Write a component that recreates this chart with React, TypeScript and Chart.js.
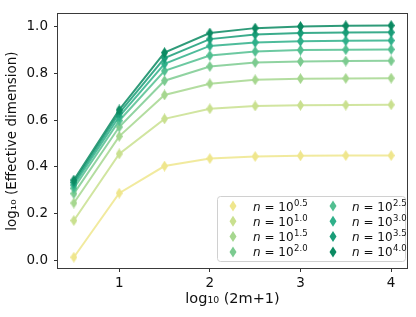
import React, { useEffect, useRef } from "react";
import { Chart, registerables } from "chart.js";

Chart.register(...registerables);

const xValues = [0.5, 1, 1.5, 2, 2.5, 3, 3.5, 4];
const seriesExponents = ["0.5", "1.0", "1.5", "2.0", "2.5", "3.0", "3.5", "4.0"];

const n05 = [0.013, 0.287, 0.403, 0.435, 0.444, 0.447, 0.448, 0.448];
const n10 = [0.170, 0.455, 0.605, 0.648, 0.660, 0.663, 0.664, 0.665];
const n15 = [0.245, 0.530, 0.707, 0.755, 0.772, 0.777, 0.778, 0.779];
const n20 = [0.285, 0.570, 0.768, 0.829, 0.846, 0.850, 0.852, 0.853];
const n25 = [0.308, 0.597, 0.810, 0.876, 0.893, 0.899, 0.901, 0.902];
const n30 = [0.322, 0.615, 0.840, 0.917, 0.932, 0.937, 0.939, 0.940];
const n35 = [0.333, 0.630, 0.865, 0.946, 0.966, 0.972, 0.974, 0.975];
const n40 = [0.343, 0.643, 0.888, 0.972, 0.993, 1.000, 1.003, 1.004];

const seriesValues = [n05, n10, n15, n20, n25, n30, n35, n40];

const seriesColors = [
  [239, 230, 141],
  [201, 224, 143],
  [166, 215, 143],
  [124, 203, 144],
  [82, 191, 145],
  [47, 176, 138],
  [25, 157, 120],
  [11, 138, 98],
];

const xTicks = [1, 2, 3, 4];
const yTicks = [0, 0.2, 0.4, 0.6, 0.8, 1.0];

const FONT = "'DejaVu Sans', sans-serif";

function rgb(c: number[], a = 1) {
  return `rgba(${c[0]},${c[1]},${c[2]},${a})`;
}

function makeDiamond(color: string, w = 7, h = 11) {
  const c = document.createElement("canvas");
  c.width = w;
  c.height = h;
  const ctx = c.getContext("2d")!;
  ctx.fillStyle = color;
  ctx.beginPath();
  ctx.moveTo(w / 2, 0);
  ctx.lineTo(w, h / 2);
  ctx.lineTo(w / 2, h);
  ctx.lineTo(0, h / 2);
  ctx.closePath();
  ctx.fill();
  return c;
}

function drawDiamond(ctx: CanvasRenderingContext2D, x: number, y: number, color: string, w = 7, h = 11) {
  ctx.fillStyle = color;
  ctx.beginPath();
  ctx.moveTo(x, y - h / 2);
  ctx.lineTo(x + w / 2, y);
  ctx.lineTo(x, y + h / 2);
  ctx.lineTo(x - w / 2, y);
  ctx.closePath();
  ctx.fill();
}

const framePlugin = {
  id: "frame",
  afterDatasetsDraw(chart: any) {
    const { ctx, chartArea } = chart;
    ctx.save();
    ctx.strokeStyle = "#3a3a3a";
    ctx.lineWidth = 1;
    const l = Math.round(chartArea.left) - 0.5;
    const t = Math.round(chartArea.top) - 0.5;
    const r = Math.round(chartArea.right) + 0.5;
    const b = Math.round(chartArea.bottom) + 0.5;
    ctx.strokeRect(l, t, r - l, b - t);
    ctx.restore();
  },
};

const legendPlugin = {
  id: "customLegend",
  afterDraw(chart: any) {
    const ctx: CanvasRenderingContext2D = chart.ctx;
    ctx.save();
    const bx = 217.5, by = 196.5, bw = 188, bh = 65;
    ctx.beginPath();
    (ctx as any).roundRect(bx, by, bw, bh, 3);
    ctx.fillStyle = "rgba(255,255,255,0.85)";
    ctx.fill();
    ctx.strokeStyle = "#d0d0d0";
    ctx.lineWidth = 1;
    ctx.stroke();
    const rowY0 = 206;
    const rowStep = 15.3;
    const cols = [{ mx: 233, tx: 253 }, { mx: 333, tx: 352 }];
    seriesExponents.forEach((exp, i) => {
      const col = cols[Math.floor(i / 4)];
      const y = rowY0 + (i % 4) * rowStep;
      drawDiamond(ctx, col.mx, y, rgb(seriesColors[i]));
      ctx.fillStyle = "#111";
      ctx.textBaseline = "alphabetic";
      ctx.textAlign = "left";
      const base = y + 4.5;
      ctx.font = `italic 12px ${FONT}`;
      let x = col.tx;
      ctx.fillText("n", x, base);
      x += ctx.measureText("n").width;
      ctx.font = `12px ${FONT}`;
      const eq = " = 10";
      ctx.fillText(eq, x, base);
      x += ctx.measureText(eq).width + 0.5;
      ctx.font = `8.5px ${FONT}`;
      ctx.fillText(exp, x, base - 5);
    });
    ctx.restore();
  },
};

export default function App() {
  const canvasRef = useRef<HTMLCanvasElement | null>(null);

  useEffect(() => {
    if (!canvasRef.current) return;
    const datasets = seriesValues.map((vals, i) => ({
      label: "n = 10^" + seriesExponents[i],
      data: xValues.map((x, j) => ({ x, y: vals[j] })),
      borderColor: rgb(seriesColors[i], 0.85),
      backgroundColor: rgb(seriesColors[i]),
      borderWidth: 2,
      pointStyle: makeDiamond(rgb(seriesColors[i])),
      pointRadius: 5,
      pointHoverRadius: 5,
      tension: 0,
      order: seriesValues.length - i,
    }));

    const chart = new Chart(canvasRef.current, {
      type: "line",
      data: { datasets },
      options: {
        animation: false,
        responsive: false,
        maintainAspectRatio: false,
        parsing: false as any,
        layout: { padding: { top: 7, right: 9, left: 0, bottom: 0 } },
        plugins: {
          legend: { display: false },
          tooltip: { enabled: false },
        },
        scales: {
          x: {
            type: "linear",
            min: 0.325,
            max: 4.175,
            afterBuildTicks: (s: any) => {
              s.ticks = xTicks.map((v) => ({ value: v }));
            },
            afterFit: (s: any) => {
              s.height = 49;
            },
            ticks: {
              autoSkip: false,
              maxRotation: 0,
              padding: 3,
              color: "#111",
              font: { family: FONT, size: 13.5 },
              callback: (v: any) => String(v),
            },
            grid: {
              display: true,
              drawOnChartArea: false,
              drawTicks: true,
              tickLength: 4,
              tickColor: "#333",
            },
            border: { display: false },
            title: {
              display: true,
              text: "log₁₀ (2m+1)",
              color: "#111",
              font: { family: FONT, size: 14.5 },
              padding: { top: 2, bottom: 9 },
            },
          },
          y: {
            type: "linear",
            min: -0.033,
            max: 1.053,
            afterBuildTicks: (s: any) => {
              s.ticks = yTicks.map((v) => ({ value: v }));
            },
            afterFit: (s: any) => {
              s.width = 58;
            },
            ticks: {
              autoSkip: false,
              padding: 6,
              color: "#111",
              font: { family: FONT, size: 13.5 },
              callback: (v: any) => Number(v).toFixed(1),
            },
            grid: {
              display: true,
              drawOnChartArea: false,
              drawTicks: true,
              tickLength: 4,
              tickColor: "#333",
            },
            border: { display: false },
            title: {
              display: true,
              text: "log₁₀ (Effective dimension)",
              color: "#111",
              font: { family: FONT, size: 13.5 },
              padding: { top: 4, bottom: 4 },
            },
          },
        },
      },
      plugins: [framePlugin, legendPlugin],
    });
    return () => chart.destroy();
  }, []);

  return (
    <div style={{ position: "absolute", left: 0, top: 0, width: 416, height: 317, background: "#fff" }}>
      <canvas ref={canvasRef} width={416} height={317} style={{ width: 416, height: 317 }} />
    </div>
  );
}
